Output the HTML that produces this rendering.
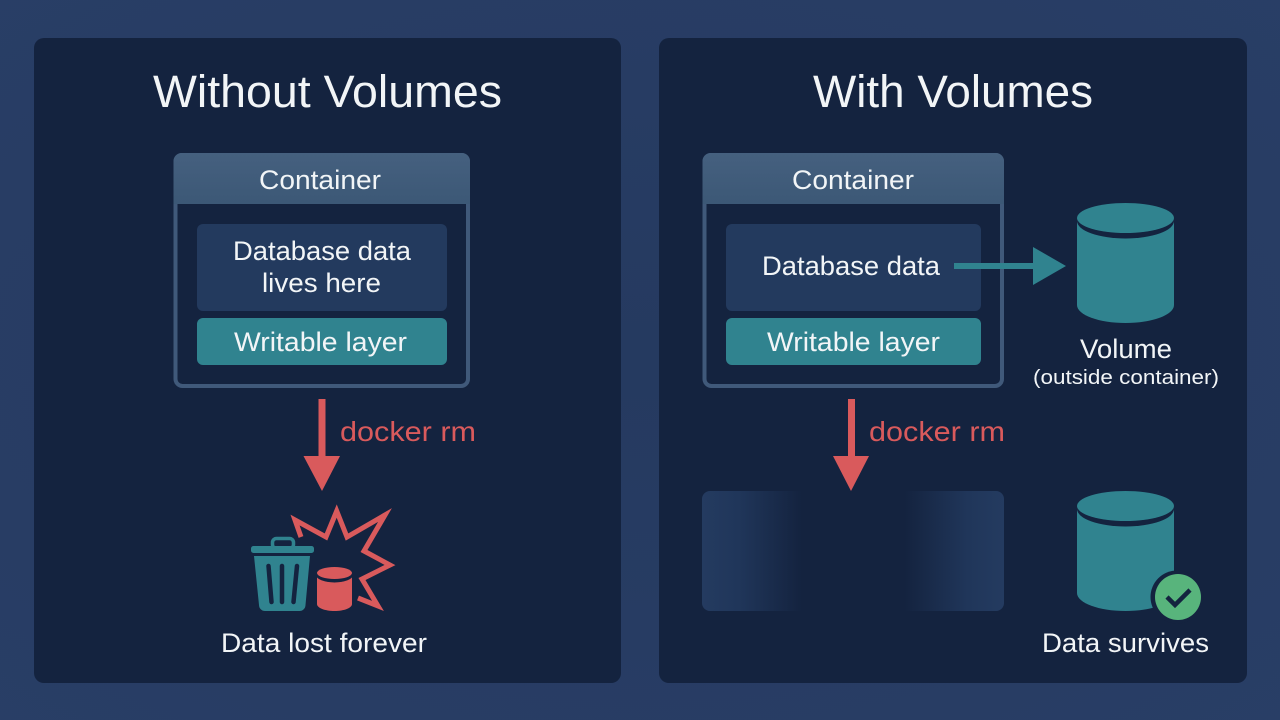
<!DOCTYPE html>
<html>
<head>
<meta charset="utf-8">
<style>
html,body{margin:0;padding:0;width:1280px;height:720px;overflow:hidden;background:#263a61}
svg{display:block}
text{font-family:"Liberation Sans",sans-serif;fill:#f2f5f7}
</style>
</head>
<body>
<svg width="1280" height="720" viewBox="0 0 1280 720" xmlns="http://www.w3.org/2000/svg">
<defs>
<linearGradient id="ghost" x1="0" x2="1" y1="0" y2="0">
<stop offset="0" stop-color="#243b60"/>
<stop offset="0.12" stop-color="#20365a"/>
<stop offset="0.33" stop-color="#14233f"/>
<stop offset="0.67" stop-color="#14233f"/>
<stop offset="0.88" stop-color="#20365a"/>
<stop offset="1" stop-color="#243b60"/>
</linearGradient>
<linearGradient id="hdr" x1="0" x2="0" y1="0" y2="1">
<stop offset="0" stop-color="#45607f"/>
<stop offset="1" stop-color="#3c5876"/>
</linearGradient>
<radialGradient id="bg" cx="0.5" cy="0.5" r="0.75">
<stop offset="0" stop-color="#253a60"/>
<stop offset="1" stop-color="#293e66"/>
</radialGradient>
</defs>

<rect width="1280" height="720" fill="url(#bg)"/>
<rect x="34" y="38" width="587" height="645" rx="10" fill="#14233f"/>
<rect x="659" y="38" width="588" height="645" rx="10" fill="#14233f"/>

<!-- LEFT -->
<text x="153" y="107" font-size="45" textLength="349" lengthAdjust="spacingAndGlyphs">Without Volumes</text>

<rect x="175.500" y="155" width="292.500" height="231" rx="7" fill="#14233f" stroke="#40597a" stroke-width="4"/>
<path d="M173.500 204V161a8 8 0 0 1 8-8H462a8 8 0 0 1 8 8V204Z" fill="url(#hdr)"/>
<text x="259" y="189" font-size="27" textLength="122" lengthAdjust="spacingAndGlyphs">Container</text>
<rect x="197" y="224" width="250" height="87" rx="6" fill="#233a5e"/>
<text x="233" y="260" font-size="27" textLength="178" lengthAdjust="spacingAndGlyphs">Database data</text>
<text x="262" y="292" font-size="27" textLength="119" lengthAdjust="spacingAndGlyphs">lives here</text>
<rect x="197" y="318" width="250" height="47" rx="6" fill="#30838f"/>
<text x="234" y="351" font-size="27" textLength="173" lengthAdjust="spacingAndGlyphs">Writable layer</text>

<rect x="318.500" y="399" width="7" height="62" fill="#d95a5c"/>
<polygon points="303.500,456 340,456 322,491" fill="#d95a5c"/>
<text x="340" y="441" font-size="28" textLength="136" lengthAdjust="spacingAndGlyphs" style="fill:#d95a5c">docker rm</text>

<!-- trash -->
<rect x="272.500" y="538.500" width="21" height="10" rx="4" fill="none" stroke="#30838f" stroke-width="3.500"/>
<rect x="251" y="546" width="63" height="7" rx="2.500" fill="#30838f"/>
<path d="M254 556H310L305.500 605a6 6 0 0 1-6 6H265a6 6 0 0 1-6-6Z" fill="#30838f"/>
<path d="M268.500 566L271.500 602M282 566V602M297 566L293.500 602" stroke="#14233f" stroke-width="4.500" stroke-linecap="round" fill="none"/>
<!-- small cylinder -->
<path d="M317 573V604C317 608 325 611 334.500 611S352 608 352 604V573Z" fill="#d95a5c"/>
<ellipse cx="334.500" cy="575" rx="18.500" ry="7.500" fill="#14233f"/>
<ellipse cx="334.500" cy="573" rx="17.500" ry="6" fill="#d95a5c"/>
<!-- burst -->
<polyline points="301,537 295,520 326,537 336.700,511 347,537 385,515 364,551 390,565 362,579 378,606 358,598" fill="none" stroke="#d95a5c" stroke-width="5" stroke-linejoin="miter"/>
<text x="221" y="652" font-size="27" textLength="206" lengthAdjust="spacingAndGlyphs">Data lost forever</text>

<!-- RIGHT -->
<text x="813" y="107" font-size="45" textLength="280" lengthAdjust="spacingAndGlyphs">With Volumes</text>

<rect x="704.500" y="155" width="297.500" height="231" rx="7" fill="#14233f" stroke="#40597a" stroke-width="4"/>
<path d="M702.500 204V161a8 8 0 0 1 8-8H996a8 8 0 0 1 8 8V204Z" fill="url(#hdr)"/>
<text x="792" y="189" font-size="27" textLength="122" lengthAdjust="spacingAndGlyphs">Container</text>
<rect x="726" y="224" width="255" height="87" rx="6" fill="#233a5e"/>
<text x="762" y="275" font-size="27" textLength="178" lengthAdjust="spacingAndGlyphs">Database data</text>
<rect x="726" y="318" width="255" height="47" rx="6" fill="#30838f"/>
<text x="767" y="351" font-size="27" textLength="173" lengthAdjust="spacingAndGlyphs">Writable layer</text>

<rect x="954" y="263" width="84" height="6" fill="#30838f"/>
<polygon points="1033,247 1066,266 1033,285" fill="#30838f"/>

<!-- volume -->
<path d="M1077 220V305C1077 315 1099 323 1125.500 323S1174 315 1174 305V220Z" fill="#30838f"/>
<ellipse cx="1125.500" cy="221" rx="48.500" ry="17.500" fill="#14233f"/>
<ellipse cx="1125.500" cy="218" rx="48.500" ry="15" fill="#30838f"/>
<text x="1080" y="358" font-size="27" textLength="92" lengthAdjust="spacingAndGlyphs">Volume</text>
<text x="1033" y="384" font-size="20" textLength="186" lengthAdjust="spacingAndGlyphs">(outside container)</text>

<rect x="848" y="399" width="7" height="62" fill="#d95a5c"/>
<polygon points="833,456 869,456 851,491" fill="#d95a5c"/>
<text x="869" y="441" font-size="28" textLength="136" lengthAdjust="spacingAndGlyphs" style="fill:#d95a5c">docker rm</text>

<rect x="702" y="491" width="302" height="120" rx="8" fill="url(#ghost)"/>

<!-- survive cylinder -->
<path d="M1077 508V593C1077 603 1099 611 1125.500 611S1174 603 1174 593V508Z" fill="#30838f"/>
<ellipse cx="1125.500" cy="509" rx="48.500" ry="17.500" fill="#14233f"/>
<ellipse cx="1125.500" cy="506" rx="48.500" ry="15" fill="#30838f"/>
<circle cx="1177" cy="597" r="26.500" fill="#14233f"/>
<circle cx="1178" cy="597" r="23" fill="#58b47c"/>
<path d="M1167 597L1175 605L1190 590" fill="none" stroke="#14233f" stroke-width="4.500"/>
<text x="1042" y="652" font-size="27" textLength="167" lengthAdjust="spacingAndGlyphs">Data survives</text>
</svg>
</body>
</html>
